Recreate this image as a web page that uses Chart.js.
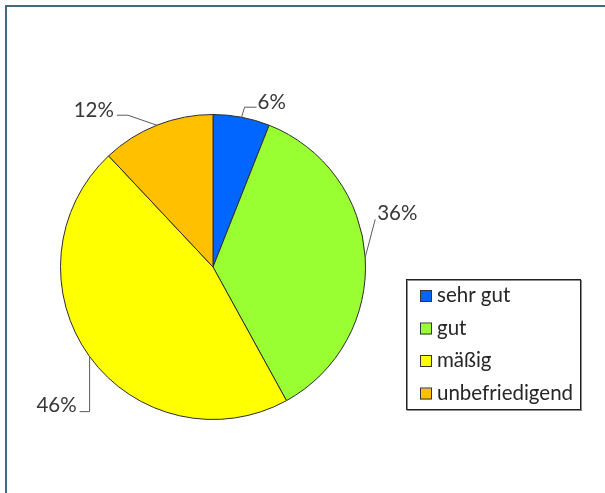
<!DOCTYPE html>
<html>
<head>
<meta charset="utf-8">
<script src="https://cdn.jsdelivr.net/npm/chart.js@4"></script>
<style>
  body { margin: 0; background: #fff; }
  canvas { display: block; }
</style>
</head>
<body>
<canvas id="pie" width="605" height="493"></canvas>
<script>
var categories = ['sehr gut', 'gut', 'mäßig', 'unbefriedigend'];
var shares = [6, 36, 46, 12];
var sliceColors = ['#0066ff', '#99ff33', '#ffff00', '#ffc000'];

// leader line bends, relative to the point on the rim (dx, dy)
var leaders = [
    { pts: [[3, -10], [15, -10]], align: 'left', tx: 16, ty: -8.5 },
    { pts: [[10, -38]], align: 'left', tx: 12, ty: -37 },
    { pts: [[0, 55], [-10, 55]], align: 'right', tx: -13, ty: 55.5 },
    { pts: [[-29, -10], [-40, -10]], align: 'right', tx: -43, ty: -8.5 }
];

var FONT = '20.5px Lato, "Open Sans", sans-serif';

var framePlugin = {
    id: 'frame',
    beforeDraw: function (chart) {
        var c = chart.ctx;
        c.save();
        c.fillStyle = '#fff';
        c.fillRect(0, 0, chart.width, chart.height);
        c.strokeStyle = '#41697f';
        c.lineWidth = 2;
        c.strokeRect(6, 6, chart.width + 10, chart.height + 10);
        c.restore();
    }
};

var labelPlugin = {
    id: 'outLabels',
    afterDatasetsDraw: function (chart) {
        var c = chart.ctx;
        var meta = chart.getDatasetMeta(0);
        c.save();
        c.font = FONT;
        c.textBaseline = 'alphabetic';
        meta.data.forEach(function (arc, i) {
            var p = arc.getProps(['x', 'y', 'startAngle', 'endAngle', 'outerRadius'], true);
            var mid = (p.startAngle + p.endAngle) / 2;
            var x0 = p.x + Math.cos(mid) * p.outerRadius;
            var y0 = p.y + Math.sin(mid) * p.outerRadius;
            var l = leaders[i];
            c.strokeStyle = '#5a5a5a';
            c.lineWidth = 1;
            c.beginPath();
            c.moveTo(x0, y0);
            l.pts.forEach(function (q) { c.lineTo(x0 + q[0], y0 + q[1]); });
            c.stroke();
            c.fillStyle = '#383838';
            c.textAlign = l.align;
            c.fillText(shares[i] + '%', x0 + l.tx, y0 + l.ty);
        });
        c.restore();
    }
};

var legendPlugin = {
    id: 'boxLegend',
    afterDraw: function (chart) {
        var c = chart.ctx;
        var bx = 406, by = 279, bw = 174, bh = 130;
        c.save();
        c.strokeStyle = '#8c8c8c';
        c.lineWidth = 1;
        c.strokeRect(bx + 1.5, by + 1.5, bw, bh);
        c.strokeStyle = '#222';
        c.strokeRect(bx + 0.5, by + 0.5, bw, bh);
        c.font = FONT;
        c.textAlign = 'left';
        c.textBaseline = 'alphabetic';
        chart.data.labels.forEach(function (lab, i) {
            var base = by + 23 + i * 32.5;
            c.fillStyle = sliceColors[i];
            c.fillRect(420, base - 11, 11, 11);
            c.strokeStyle = '#333';
            c.strokeRect(420.5, base - 11.5, 11, 11);
            c.fillStyle = '#262626';
            c.fillText(lab, 437, base);
        });
        c.restore();
    }
};

var ctx = document.getElementById('pie').getContext('2d');
var myChart = new Chart(ctx, {
    type: 'pie',
    data: {
        labels: categories,
        datasets: [{
            data: shares,
            backgroundColor: sliceColors,
            borderColor: '#2e2e2e',
            borderWidth: 1
        }]
    },
    options: {
        responsive: false,
        animation: false,
        layout: { padding: { left: 60, top: 114, right: 239, bottom: 73 } },
        plugins: {
            legend: { display: false },
            tooltip: { enabled: false }
        }
    },
    plugins: [framePlugin, labelPlugin, legendPlugin]
});
</script>
</body>
</html>
